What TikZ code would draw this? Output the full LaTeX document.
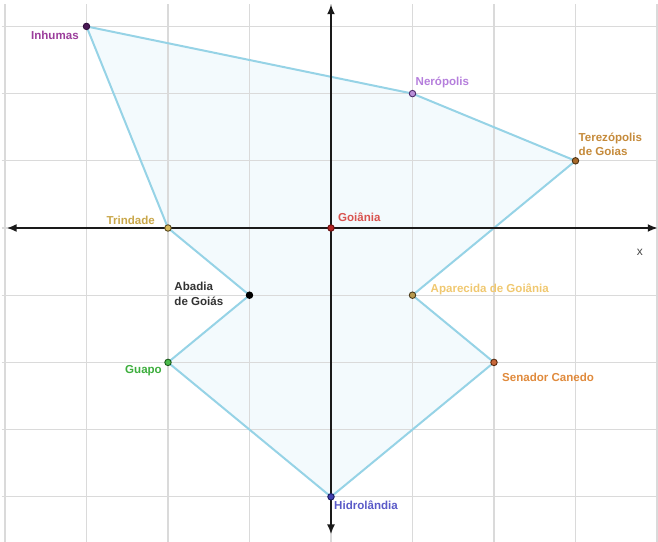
\documentclass[tikz,border=0pt]{standalone}
\usepackage{fontspec}
\setmainfont{Liberation Sans}
\usetikzlibrary{positioning, arrows.meta}

\definecolor{gridgray}{HTML}{DADADA}
\definecolor{edgeblue}{HTML}{96D3E6}
\definecolor{areablue}{HTML}{F3FAFD}
\definecolor{axisgray}{HTML}{1A1A1A}

\begin{document}
\begin{tikzpicture}[x=81.5bp, y=67.2bp]
    % Define styles
    \tikzstyle{city} = [circle, draw, line width=0.9bp, inner sep=0pt, minimum size=6.5bp]
    \tikzstyle{cityname} = [font=\fontsize{11.6}{14.5}\selectfont\bfseries, inner sep=1bp, align=left]
    \tikzstyle{axis} = [draw=axisgray, line width=2.4bp, {Latex[length=10bp,width=8bp]}-{Latex[length=10bp,width=8bp]}]

    \useasboundingbox (-4.0613,-4.6726) rectangle (4.0123,3.3929);

    % Place city positions
    \coordinate (inhumas) at (-3,3);
    \coordinate (neropolis) at (1,2);
    \coordinate (terezopolis) at (3,1);
    \coordinate (trindade) at (-2,0);
    \coordinate (goiania) at (0,0);
    \coordinate (abadia) at (-1,-1);
    \coordinate (aparecida) at (1,-1);
    \coordinate (guapo) at (-2,-2);
    \coordinate (senador) at (2,-2);
    \coordinate (hidrolandia) at (0,-4);

    % Shaded region and grid
    \fill[areablue] (inhumas) -- (neropolis) -- (terezopolis) -- (aparecida) -- (senador)
        -- (hidrolandia) -- (guapo) -- (abadia) -- (trindade) -- cycle;
    \draw[gridgray, line width=1.1bp, step=1] (-4.04,-4.68) grid (4.02,3.34);
    \draw[edgeblue, line width=2bp, line join=round] (inhumas) -- (neropolis) -- (terezopolis)
        -- (aparecida) -- (senador) -- (hidrolandia) -- (guapo) -- (abadia) -- (trindade) -- cycle;

    % Draw axes
    \coordinate (xleft) at (-3.98,0);
    \coordinate (xright) at (4.01,0);
    \coordinate (ytop) at (0,3.33);
    \coordinate (ybottom) at (0,-4.56);
    \draw[axis] (xleft) -- (xright);
    \draw[axis] (ybottom) -- (ytop);
    \node[text=axisgray!80, font=\fontsize{12}{14}\selectfont] (xlabel) at (3.791,-0.357) {x};

    % Place city dots
    \node[city, fill={rgb,255:red,74;green,26;blue,85}, draw={rgb,255:red,50;green,15;blue,60}] (inhumasdot) at (inhumas) {};
    \node[city, fill={rgb,255:red,185;green,143;blue,216}, draw={rgb,255:red,75;green,42;blue,107}] (neropolisdot) at (neropolis) {};
    \node[city, fill={rgb,255:red,168;green,105;blue,42}, draw={rgb,255:red,78;green,50;blue,18}] (terezopolisdot) at (terezopolis) {};
    \node[city, fill={rgb,255:red,214;green,184;blue,90}, draw={rgb,255:red,90;green,74;blue,30}] (trindadedot) at (trindade) {};
    \node[city, fill={rgb,255:red,178;green,34;blue,34}, draw={rgb,255:red,106;green,16;blue,16}] (goianiadot) at (goiania) {};
    \node[city, fill=black, draw=black] (abadiadot) at (abadia) {};
    \node[city, fill={rgb,255:red,184;green,155;blue,80}, draw={rgb,255:red,74;green,60;blue,28}] (aparecidadot) at (aparecida) {};
    \node[city, fill={rgb,255:red,76;green,187;blue,76}, draw={rgb,255:red,26;green,90;blue,26}] (guapodot) at (guapo) {};
    \node[city, fill={rgb,255:red,200;green,104;blue,58}, draw={rgb,255:red,90;green,42;blue,16}] (senadordot) at (senador) {};
    \node[city, fill={rgb,255:red,64;green,64;blue,176}, draw={rgb,255:red,26;green,26;blue,96}] (hidrolandiadot) at (hidrolandia) {};

    % Add city names
    \node[cityname, text={rgb,255:red,155;green,61;blue,155}, below left=1bp and 4bp of inhumasdot] (inhumaslbl) {Inhumas};
    \node[cityname, text={rgb,255:red,181;green,126;blue,220}, above right=5bp and 2bp of neropolisdot.center] (neropolislbl) {Nerópolis};
    \node[cityname, text={rgb,255:red,197;green,138;blue,58}, above right=4bp and 2bp of terezopolisdot.center] (terezopolislbl) {Terezópolis\\de Goias};
    \node[cityname, text={rgb,255:red,201;green,167;blue,74}, above left=2bp and 12bp of trindadedot.center] (trindadelbl) {Trindade};
    \node[cityname, text={rgb,255:red,217;green,83;blue,79}, above right=5bp and 6bp of goianiadot.center] (goianialbl) {Goiânia};
    \node[cityname, text={rgb,255:red,51;green,51;blue,51}, left=25bp of abadiadot.center, yshift=1.5bp] (abadialbl) {Abadia\\de Goiás};
    \node[cityname, text={rgb,255:red,240;green,200;blue,112}, right=17bp of aparecidadot.center, yshift=6bp] (aparecidalbl) {Aparecida de Goiânia};
    \node[cityname, text={rgb,255:red,61;green,174;blue,61}, below left=2bp and 5bp of guapodot.center] (guapolbl) {Guapo};
    \node[cityname, text={rgb,255:red,224;green,138;blue,60}, below right=10bp and 7bp of senadordot.center] (senadorlbl) {Senador Canedo};
    \node[cityname, text={rgb,255:red,90;green,90;blue,200}, below right=3bp and 2bp of hidrolandiadot.center] (hidrolandialbl) {Hidrolândia};

\end{tikzpicture}
\end{document}
